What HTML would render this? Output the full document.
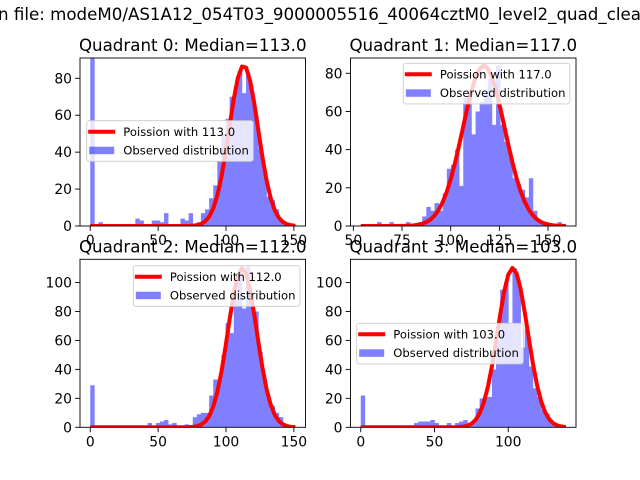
<!DOCTYPE html>
<html><head><meta charset="utf-8"><style>
html,body{margin:0;padding:0;background:#fff;}
svg{display:block;font-family:"DejaVu Sans","Liberation Sans",sans-serif;}
</style></head><body>
<svg id="fig" width="640" height="480" viewBox="0 0 640 480" xmlns="http://www.w3.org/2000/svg">
<text x="-2" y="20" font-size="16.67" fill="#000">n file: modeM0/AS1A12_054T03_9000005516_40064cztM0_level2_quad_clean.evt</text>
</svg>
<script>
const titles = ["Quadrant 0: Median=113.0","Quadrant 1: Median=117.0","Quadrant 2: Median=112.0","Quadrant 3: Median=103.0"];
const medians = [113, 117, 112, 103];
const peaks = [87, 84, 110, 110];
const binLo = [0, 53.8, 0, 0];
const binHi = [151, 159.1, 151, 139];
const yMax = [91, 88, 116, 116];
const xTicks0 = [0, 50, 100, 150];
const xTicks1 = [50, 75, 100, 125, 150];
const xTicks2 = [0, 50, 100, 150];
const xTicks3 = [0, 50, 100];
const yTicks0 = [0, 20, 40, 60, 80];
const yTicks1 = [0, 20, 40, 60, 80];
const yTicks2 = [0, 20, 40, 60, 80, 100];
const yTicks3 = [0, 20, 40, 60, 80, 100];
const counts0 = [95,0,2,0,0,0,0,0,0,0,0,4,3,0,0,3,3,2,7,0,0,0,4,3,7,1,2,7,9,15,22,35,50,58,70,75,84,72,83,72,60,42,30,16,14,9,3,2,1,1];
const counts1 = [0,0,0,0,2,0,0,2,0,0,0,2,0,1,2,5,10,8,12,8,17,30,32,40,21,67,67,48,60,65,70,77,53,84,53,44,37,25,22,19,15,25,8,3,1,1,0,0,2,1];
const counts2 = [29,0,0,0,0,0,0,0,0,0,0,0,0,0,3,0,3,4,5,2,3,0,0,2,1,7,9,10,10,22,33,33,50,72,65,88,106,82,111,93,80,52,33,20,15,10,7,2,1,1];
const counts3 = [22,0,0,0,0,0,0,0,0,0,0,0,0,3,4,4,4,5,3,0,0,3,0,3,4,5,1,4,13,20,21,21,40,60,95,100,72,110,100,55,68,42,27,21,12,9,4,2,1,1];
const legendLabels = ["Poission with 113.0","Poission with 117.0","Poission with 112.0","Poission with 103.0"];

const allCounts = [counts0, counts1, counts2, counts3];
const allXTicks = [xTicks0, xTicks1, xTicks2, xTicks3];
const allYTicks = [yTicks0, yTicks1, yTicks2, yTicks3];
const boxes = [[80,58,225.5,168],[350.5,58,225.5,168],[80,259.3,225.5,168],[350.5,259.3,225.5,168]];
const legendPos = [[86.7,120.7],[403.3,63.3],[133.3,265.7],[356.7,323.3]];
const NS = "http://www.w3.org/2000/svg";
const fig = document.getElementById('fig');
function mk(tag, attrs, parent) {
  const e = document.createElementNS(NS, tag);
  for (const k in attrs) e.setAttribute(k, attrs[k]);
  (parent || fig).appendChild(e);
  return e;
}
for (let q = 0; q < 4; q++) {
  const [bx, by, bw, bh] = boxes[q];
  const lo = binLo[q], hi = binHi[q];
  const xmin = lo - 0.05 * (hi - lo), xmax = hi + 0.05 * (hi - lo);
  const sx = v => bx + (v - xmin) / (xmax - xmin) * bw;
  const sy = v => by + bh - v / yMax[q] * bh;
  const g = mk('g', {});
  
  
  const cp = mk('clipPath', {id: 'clip' + q}, g);
  mk('rect', {x: bx, y: by, width: bw, height: bh}, cp);
  const plot = mk('g', {'clip-path': 'url(#clip' + q + ')'}, g);
  const counts = allCounts[q];
  const n = counts.length, w = (hi - lo) / n;
  let hd = '';
  for (let i = 0; i < n; i++) {
    if (counts[i] <= 0) continue;
    const x0 = sx(lo + i * w), x1 = sx(lo + (i + 1) * w);
    const yt = sy(counts[i]), yb = sy(0);
    hd += 'M' + x0.toFixed(2) + ',' + yb.toFixed(2) + 'L' + x0.toFixed(2) + ',' + yt.toFixed(2) + 'L' + (x1 + 0.3).toFixed(2) + ',' + yt.toFixed(2) + 'L' + (x1 + 0.3).toFixed(2) + ',' + yb.toFixed(2) + 'Z';
  }
  const bars = mk('path', {d: hd, fill: '#0000ff', 'fill-opacity': 0.5, 'fill-rule': 'nonzero'}, plot);
  
  
  const mu = medians[q];
  let d = '';
  for (let i = 0; i <= n; i++) {
    const x = lo + i * w;
    const y = peaks[q] * Math.exp(-(x - mu) * (x - mu) / (2 * mu));
    d += (i ? 'L' : 'M') + sx(x).toFixed(2) + ',' + sy(y).toFixed(2);
  }
  const line = mk('path', {d: d, fill: 'none', stroke: '#ff0000', 'stroke-width': 4, 'stroke-linejoin': 'round'}, plot);
  
  
  const frame = mk('rect', {x: bx, y: by, width: bw, height: bh, fill: 'none', stroke: '#000', 'stroke-width': 0.9}, g);
  
  
  allXTicks[q].forEach(t => {
    const x = sx(t);
    mk('line', {x1: x, x2: x, y1: by + bh, y2: by + bh + 4.9, stroke: '#000', 'stroke-width': 0.9}, g);
    const tx = mk('text', {x: x, y: by + bh + 19, 'font-size': 13.9, 'text-anchor': 'middle'}, g);
    tx.textContent = t;
    
    
  });
  allYTicks[q].forEach(t => {
    const y = sy(t);
    mk('line', {x1: bx - 4.9, x2: bx, y1: y, y2: y, stroke: '#000', 'stroke-width': 0.9}, g);
    const ty = mk('text', {x: bx - 8, y: y + 5, 'font-size': 13.9, 'text-anchor': 'end'}, g);
    ty.textContent = t;
    
    
  });
  const tt = mk('text', {x: bx + bw / 2, y: by - 7, 'font-size': 16.67, 'text-anchor': 'middle'}, g);
  tt.textContent = titles[q];
  
  
  const [lx, ly] = legendPos[q];
  const lg = mk('g', {}, g);
  
  
  mk('rect', {x: lx, y: ly, width: 166.6, height: 40.6, rx: 2.5, fill: '#fff', 'fill-opacity': 0.8, stroke: '#ccc', 'stroke-width': 0.9}, lg);
  mk('line', {x1: lx + 1.5, x2: lx + 28.5, y1: ly + 11, y2: ly + 11, stroke: '#ff0000', 'stroke-width': 4}, lg);
  mk('rect', {x: lx + 2.5, y: ly + 26, width: 25, height: 7.5, fill: '#0000ff', 'fill-opacity': 0.5}, lg);
  const l1 = mk('text', {x: lx + 36.6, y: ly + 15.3, 'font-size': 11.6}, lg);
  l1.textContent = legendLabels[q];
  
  
  const l2 = mk('text', {x: lx + 36.6, y: ly + 33.6, 'font-size': 11.6}, lg);
  l2.textContent = "Observed distribution";
  
  
}
</script>
</body></html>
